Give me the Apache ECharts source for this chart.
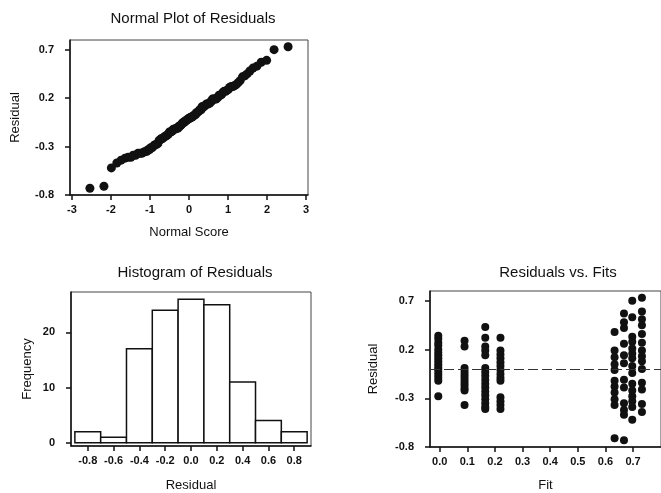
<!DOCTYPE html>
<html>
<head>
<meta charset="utf-8">
<title>Residual Plots</title>
<script src="https://cdn.jsdelivr.net/npm/echarts@6.0.0/dist/echarts.min.js"></script>
<style>
  html, body { margin: 0; padding: 0; background: #fff; }
  #chart { width: 661px; height: 493px; }
</style>
</head>
<body>
<div id="chart"></div>
<script>
// normal plot: normal score of each rank, and the sorted residuals
const normalScores = [
  -2.54, -2.18, -1.99, -1.85, -1.74, -1.64, -1.56, -1.49, -1.43, -1.37,
  -1.31, -1.26, -1.21, -1.17, -1.13, -1.08, -1.04, -1.01, -0.97, -0.94,
  -0.90, -0.87, -0.84, -0.80, -0.77, -0.74, -0.72, -0.69, -0.66, -0.63,
  -0.60, -0.58, -0.55, -0.53, -0.50, -0.47, -0.45, -0.43, -0.40, -0.38,
  -0.35, -0.33, -0.31, -0.28, -0.26, -0.24, -0.21, -0.19, -0.17, -0.15,
  -0.12, -0.10, -0.08, -0.06, -0.03, -0.01, 0.01, 0.03, 0.06, 0.08,
  0.10, 0.12, 0.15, 0.17, 0.19, 0.21, 0.24, 0.26, 0.28, 0.31,
  0.33, 0.35, 0.38, 0.40, 0.43, 0.45, 0.47, 0.50, 0.53, 0.55,
  0.58, 0.60, 0.63, 0.66, 0.69, 0.72, 0.74, 0.77, 0.80, 0.84,
  0.87, 0.90, 0.94, 0.97, 1.01, 1.04, 1.08, 1.13, 1.17, 1.21,
  1.26, 1.31, 1.37, 1.43, 1.49, 1.56, 1.64, 1.74, 1.85, 1.99,
  2.18, 2.54
];
const sortedResiduals = [
  -0.73, -0.71, -0.52,
  -0.47, -0.44, -0.42, -0.41, -0.41, -0.39, -0.39, -0.37, -0.37, -0.37, -0.36, -0.35, -0.35, -0.33, -0.33, -0.31, -0.31,
  -0.29, -0.28, -0.28, -0.27, -0.24, -0.23, -0.22, -0.22, -0.21, -0.20, -0.19, -0.19, -0.18, -0.17, -0.15, -0.15, -0.14, -0.14, -0.12, -0.12, -0.12, -0.11, -0.11, -0.11,
  -0.09, -0.09, -0.08, -0.07, -0.06, -0.05, -0.05, -0.04, -0.03, -0.03, -0.02, -0.01, -0.01, 0.00, 0.00, 0.01, 0.01, 0.02, 0.03, 0.03, 0.05, 0.05, 0.06, 0.07, 0.08, 0.08,
  0.11, 0.11, 0.11, 0.12, 0.13, 0.14, 0.14, 0.14, 0.15, 0.16, 0.17, 0.19, 0.19, 0.19, 0.19, 0.20, 0.21, 0.23, 0.23, 0.24, 0.26, 0.27, 0.27, 0.28, 0.29,
  0.31, 0.32, 0.32, 0.33, 0.34, 0.36, 0.38, 0.42, 0.43, 0.45, 0.48,
  0.51, 0.53, 0.57, 0.59,
  0.70, 0.73
];

// histogram
const binCenters = [-0.8, -0.6, -0.4, -0.2, 0.0, 0.2, 0.4, 0.6, 0.8];
const binCounts = [2, 1, 17, 24, 26, 25, 11, 4, 2];
const binWidth = 0.2;

// residuals vs fits, one list of residuals per fitted value
const fitLevels = [-0.005, 0.09, 0.165, 0.22, 0.633, 0.667, 0.697, 0.732];
const residualsAtFit = [
  [0.34, 0.31, 0.27, 0.24, 0.20, 0.17, 0.14, 0.11, 0.08, 0.05, 0.02, 0.00, -0.03, -0.06, -0.09, -0.12, -0.28],
  [0.29, 0.23, 0.01, -0.02, -0.05, -0.08, -0.11, -0.14, -0.17, -0.20, -0.22, -0.37],
  [0.43, 0.32, 0.23, 0.19, 0.14, 0.01, -0.03, -0.07, -0.11, -0.15, -0.19, -0.23, -0.27, -0.31, -0.35, -0.39, -0.41],
  [0.32, 0.19, 0.15, 0.11, 0.07, 0.03, -0.01, -0.05, -0.09, -0.12, -0.29, -0.33, -0.37, -0.41],
  [0.38, 0.19, 0.12, 0.05, -0.01, -0.12, -0.18, -0.24, -0.31, -0.37, -0.71],
  [0.57, 0.48, 0.42, 0.26, 0.14, 0.06, -0.11, -0.19, -0.35, -0.42, -0.47, -0.73],
  [0.70, 0.53, 0.33, 0.28, 0.21, 0.16, 0.11, 0.03, -0.04, -0.15, -0.22, -0.28, -0.33, -0.39, -0.52],
  [0.73, 0.59, 0.51, 0.45, 0.36, 0.27, 0.19, 0.13, 0.08, 0.00, -0.14, -0.21, -0.36, -0.44]
];

// tick labels
const residualTicks = [-0.8, -0.3, 0.2, 0.7];
const scoreTicks = [-3, -2, -1, 0, 1, 2, 3];
const histTicks = [-0.8, -0.6, -0.4, -0.2, 0.0, 0.2, 0.4, 0.6, 0.8];
const freqTicks = [0, 10, 20];
const fitTicks = [0.0, 0.1, 0.2, 0.3, 0.4, 0.5, 0.6, 0.7];

const FONT = 'Liberation Sans, Arial, sans-serif';
const INK = '#111';

const normalData = normalScores.map((s, i) => [s, sortedResiduals[i]]);
const histData = binCenters.map((c, i) => [c, binCounts[i]]);
const fitData = [];
fitLevels.forEach((f, i) => {
  residualsAtFit[i].forEach(r => fitData.push([f, r]));
});

// same look for every axis
function makeAxis(gridIndex, min, max, ticks, digits, name, nameGap, isY) {
  return {
    type: 'value',
    gridIndex: gridIndex,
    min: min,
    max: max,
    name: name,
    nameLocation: 'middle',
    nameGap: nameGap,
    nameTextStyle: { fontFamily: FONT, fontSize: 13, color: INK },
    axisLine: { show: true, onZero: false, lineStyle: { color: INK, width: 1.5 } },
    axisTick: { show: true, customValues: ticks, length: 5, lineStyle: { color: INK, width: 1.5 } },
    axisLabel: {
      customValues: ticks,
      margin: isY ? 16 : 9,
      fontFamily: FONT,
      fontSize: 11,
      fontWeight: 'bold',
      color: INK,
      formatter: v => v.toFixed(digits)
    },
    splitLine: { show: false }
  };
}

const chart = echarts.init(document.getElementById('chart'), null, { renderer: 'canvas' });

const titleStyle = { fontFamily: FONT, fontSize: 15, fontWeight: 'normal', color: INK };

const option = {
  backgroundColor: '#fff',
  animation: false,
  title: [
    { text: 'Normal Plot of Residuals', left: 188, top: 6, textAlign: 'center', textStyle: titleStyle },
    { text: 'Histogram of Residuals', left: 190, top: 260, textAlign: 'center', textStyle: titleStyle },
    { text: 'Residuals vs. Fits', left: 553, top: 260, textAlign: 'center', textStyle: titleStyle }
  ],
  grid: [
    { left: 70, top: 40, width: 238, height: 155, show: true, borderColor: '#444', borderWidth: 1 },
    { left: 71, top: 292, width: 240, height: 154, show: true, borderColor: '#444', borderWidth: 1 },
    { left: 430, top: 291, width: 250, height: 156, show: true, borderColor: '#444', borderWidth: 1 }
  ],
  xAxis: [
    makeAxis(0, -3.05, 3.05, scoreTicks, 0, 'Normal Score', 31, false),
    makeAxis(1, -0.93, 0.93, histTicks, 1, 'Residual', 33, false),
    makeAxis(2, -0.035, 0.801, fitTicks, 1, 'Fit', 32, false)
  ],
  yAxis: [
    makeAxis(0, -0.8, 0.8, residualTicks, 1, 'Residual', 48, true),
    makeAxis(1, -0.6, 27.3, freqTicks, 0, 'Frequency', 37, true),
    makeAxis(2, -0.8, 0.8, residualTicks, 1, 'Residual', 50, true)
  ],
  series: [
    {
      type: 'scatter',
      xAxisIndex: 0,
      yAxisIndex: 0,
      data: normalData,
      symbolSize: 9,
      itemStyle: { color: INK, opacity: 1 }
    },
    {
      type: 'custom',
      xAxisIndex: 1,
      yAxisIndex: 1,
      data: histData,
      renderItem: function (params, api) {
        const c = api.value(0);
        const n = api.value(1);
        const p0 = api.coord([c - binWidth / 2, n]);
        const p1 = api.coord([c + binWidth / 2, 0]);
        return {
          type: 'rect',
          shape: { x: p0[0], y: p0[1], width: p1[0] - p0[0], height: p1[1] - p0[1] },
          style: { fill: '#fff', stroke: INK, lineWidth: 1.5 }
        };
      }
    },
    {
      type: 'scatter',
      xAxisIndex: 2,
      yAxisIndex: 2,
      data: fitData,
      symbolSize: 8,
      itemStyle: { color: INK, opacity: 1 },
      markLine: {
        silent: true,
        symbol: 'none',
        label: { show: false },
        lineStyle: { color: '#333', width: 1, type: [10, 4] },
        data: [{ yAxis: 0 }]
      }
    }
  ]
};

chart.setOption(option);
</script>
</body>
</html>
